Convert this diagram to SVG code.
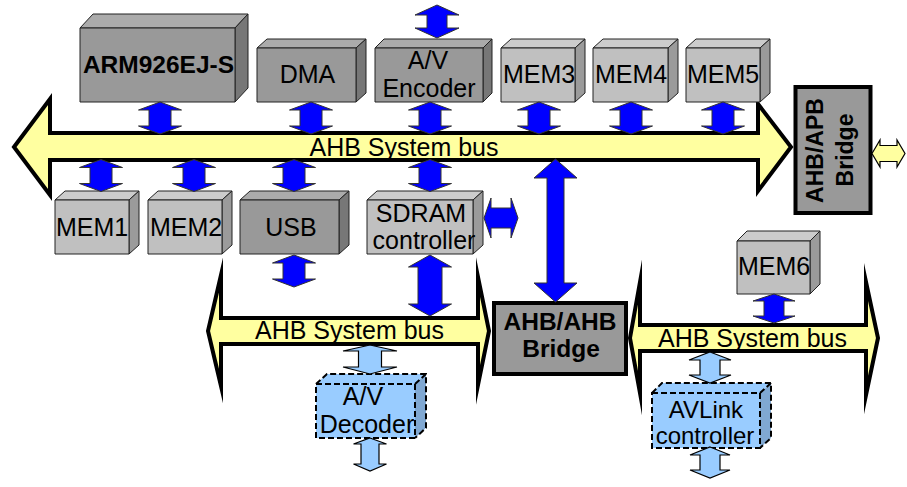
<svg xmlns="http://www.w3.org/2000/svg" width="907" height="487" viewBox="0 0 907 487">
  <style>
    .bus{fill:#ffffa0;stroke:#000;stroke-width:4;stroke-linejoin:miter;stroke-miterlimit:20}
    .t{font-family:"Liberation Sans",Arial,Helvetica,sans-serif;font-size:25px;fill:#000;text-anchor:middle}
    .b{font-weight:bold;font-size:24.5px}
    .face{stroke:#222;stroke-width:1;stroke-linejoin:round}
    .fd{fill:#999999}.td{fill:#ababab}.sd{fill:#777777}
    .fl{fill:#c0c0c0}.tl{fill:#cccccc}.sl{fill:#9b9b9b}
    .fb{fill:#99ccff}.sb{fill:#80a8d2}
    .dash{fill:none;stroke:#000;stroke-width:2;stroke-dasharray:6 3}
    .bridge{fill:#999999;stroke:#000;stroke-width:4}
    .arr{fill:#0000ff;stroke:#333;stroke-width:1}
    .arrl{fill:#99ccff;stroke:#000;stroke-width:1.2}
    .arry{fill:#ffffa0;stroke:#000;stroke-width:1.2}
  </style>
  <defs>
    <!-- short vertical double arrow, 32 px tall, centred on x=0 -->
    <path id="va" d="M0,0 L21.5,8 L11,8 L11,24 L21.5,24 L0,32 L-21.5,24 L-11,24 L-11,8 L-21.5,8 Z"/>
  </defs>

  <!-- buses -->
  <g id="bus-main">
    <polygon class="bus" points="14,147 50,99 50,133 758,133 758,104 791,147 758,191 758,160 50,160 50,195"/>
    <text class="t" x="404" y="156">AHB System bus</text>
  </g>
  <g id="bus-left">
    <polygon class="bus" points="208,331 221,275 221,318 478,318 478,277 489,331 478,385 478,344 221,344 221,386"/>
    <text class="t" x="349.5" y="339">AHB System bus</text>
  </g>
  <g id="bus-right">
    <polygon class="bus" points="630,338 640,282 640,325 866,325 866,282 878,338 866,395 866,351 640,351 640,393"/>
    <text class="t" x="752.5" y="347">AHB System bus</text>
  </g>

  <!-- top row -->
  <g id="arm">
    <polygon class="face td" points="80,28 93,14 248,14 235,28"/>
    <polygon class="face sd" points="235,28 248,14 248,88 235,102"/>
    <rect class="face fd" x="80" y="28" width="155" height="74"/>
    <text class="t b" x="158.5" y="73">ARM926EJ-S</text>
  </g>
  <g id="dma">
    <polygon class="face td" points="257,48 267,39 366,39 356,48"/>
    <polygon class="face sd" points="356,48 366,39 366,93 356,102"/>
    <rect class="face fd" x="257" y="48" width="99" height="54"/>
    <text class="t" x="307.5" y="83">DMA</text>
  </g>
  <g id="encoder">
    <polygon class="face td" points="375,48 384,39 492,39 483,48"/>
    <polygon class="face sd" points="483,48 492,39 492,93 483,102"/>
    <rect class="face fd" x="375" y="48" width="108" height="54"/>
    <text class="t" x="428" y="69">A/V</text>
    <text class="t" x="429" y="97">Encoder</text>
  </g>
  <g id="mem3">
    <polygon class="face tl" points="501,48 511,39 585,39 575,48"/>
    <polygon class="face sl" points="575,48 585,39 585,93 575,102"/>
    <rect class="face fl" x="501" y="48" width="74" height="54"/>
    <text class="t" x="539" y="83">MEM3</text>
  </g>
  <g id="mem4">
    <polygon class="face tl" points="593,48 603,39 678,39 668,48"/>
    <polygon class="face sl" points="668,48 678,39 678,93 668,102"/>
    <rect class="face fl" x="593" y="48" width="75" height="54"/>
    <text class="t" x="631" y="83">MEM4</text>
  </g>
  <g id="mem5">
    <polygon class="face tl" points="686,48 696,39 770,39 760,48"/>
    <polygon class="face sl" points="760,48 770,39 770,93 760,102"/>
    <rect class="face fl" x="686" y="48" width="74" height="54"/>
    <text class="t" x="723" y="83">MEM5</text>
  </g>

  <!-- second row -->
  <g id="mem1">
    <polygon class="face tl" points="55,200 65,191 139,191 129,200"/>
    <polygon class="face sl" points="129,200 139,191 139,245 129,254"/>
    <rect class="face fl" x="55" y="200" width="74" height="54"/>
    <text class="t" x="92" y="236">MEM1</text>
  </g>
  <g id="mem2">
    <polygon class="face tl" points="148,200 158,191 232,191 222,200"/>
    <polygon class="face sl" points="222,200 232,191 232,245 222,254"/>
    <rect class="face fl" x="148" y="200" width="74" height="54"/>
    <text class="t" x="186" y="236">MEM2</text>
  </g>
  <g id="usb">
    <polygon class="face td" points="240,200 250,191 349,191 339,200"/>
    <polygon class="face sd" points="339,200 349,191 349,245 339,254"/>
    <rect class="face fd" x="240" y="200" width="99" height="54"/>
    <text class="t" x="291" y="236">USB</text>
  </g>
  <g id="sdram">
    <polygon class="face tl" points="367,200 377,191 483,191 473,200"/>
    <polygon class="face sl" points="473,200 483,191 483,245 473,254"/>
    <rect class="face fl" x="367" y="200" width="106" height="54"/>
    <text class="t" x="421" y="222">SDRAM</text>
    <text class="t" x="424" y="249">controller</text>
  </g>
  <g id="mem6">
    <polygon class="face tl" points="737,241 747,231 820,231 810,241"/>
    <polygon class="face sl" points="810,241 820,231 820,284 810,294"/>
    <rect class="face fl" x="737" y="241" width="73" height="53"/>
    <text class="t" x="774" y="275">MEM6</text>
  </g>

  <!-- bridges -->
  <g id="apb-bridge">
    <rect class="bridge" x="795.5" y="87" width="75" height="126"/>
    <text class="t b" style="font-size:23px" transform="translate(823,150.5) rotate(-90)">AHB/APB</text>
    <text class="t b" style="font-size:23px" transform="translate(853,150) rotate(-90)">Bridge</text>
  </g>
  <g id="ahb-bridge">
    <rect class="bridge" x="494" y="303" width="132" height="71"/>
    <text class="t b" x="560" y="330">AHB/AHB</text>
    <text class="t b" x="561" y="357">Bridge</text>
  </g>

  <!-- optional blocks -->
  <g id="av-decoder">
    <polygon class="fb" points="316,384 327,374 426,374 415,384"/>
    <polygon class="sb" points="415,384 426,374 426,428 415,438"/>
    <rect class="fb" x="316" y="384" width="99" height="54"/>
    <rect class="dash" x="316" y="384" width="99" height="54"/>
    <polyline class="dash" points="316,384 327,374 426,374 426,428 415,438"/>
    <line class="dash" x1="415" y1="384" x2="426" y2="374"/>
    <text class="t" x="363" y="405">A/V</text>
    <text class="t" x="367" y="433">Decoder</text>
  </g>
  <g id="avlink">
    <polygon class="fb" points="652,393 662,383 771,383 760,393"/>
    <polygon class="sb" points="760,393 771,383 771,438 760,448"/>
    <rect class="fb" x="652" y="393" width="108" height="55"/>
    <rect class="dash" x="652" y="393" width="108" height="55"/>
    <polyline class="dash" points="652,393 662,383 771,383 771,438 760,448"/>
    <line class="dash" x1="760" y1="393" x2="771" y2="383"/>
    <text class="t" style="font-size:24px" x="706" y="418">AVLink</text>
    <text class="t" style="font-size:24px" x="705" y="444">controller</text>
  </g>

  <!-- connectors -->
  <g id="connectors">
    <polygon class="arr" points="437,5 459,15 447,15 447,28 459,28 437,38 415,28 427,28 427,15 415,15"/>
    <use href="#va" class="arr" transform="translate(160,102)"/>
    <use href="#va" class="arr" transform="translate(311,102)"/>
    <use href="#va" class="arr" transform="translate(430,102)"/>
    <use href="#va" class="arr" transform="translate(539,102)"/>
    <use href="#va" class="arr" transform="translate(631,102)"/>
    <use href="#va" class="arr" transform="translate(723,102)"/>
    <use href="#va" class="arr" transform="translate(101,159.5)"/>
    <use href="#va" class="arr" transform="translate(194,159.5)"/>
    <use href="#va" class="arr" transform="translate(294,159.5)"/>
    <use href="#va" class="arr" transform="translate(430,159.5)"/>
    <use href="#va" class="arr" transform="translate(294,255)"/>
    <polygon class="arr" points="430,255 451.5,267 442,267 442,304 451.5,304 430,316 408.5,304 418,304 418,267 408.5,267"/>
    <polygon class="arr" points="484,218 491,198 491,208 511,208 511,198 518,218 511,238 511,228 491,228 491,238"/>
    <polygon class="arr" points="555.5,159 577,178 564,178 564,283 577,283 555.5,302 534,283 547,283 547,178 534,178"/>
    <polygon class="arr" points="774,294 795,301 784,301 784,316 795,316 774,323 753,316 764,316 764,301 753,301"/>
    <polygon class="arrl" points="370,345 397,351 381.5,351 381.5,367 397,367 370,374 343,367 358.5,367 358.5,351 343,351"/>
    <polygon class="arrl" points="370,438 386.5,444 379,444 379,464 386.5,464 370,471 353.5,464 361,464 361,444 353.5,444"/>
    <polygon class="arrl" points="710,352 731,360 720,360 720,375 731,375 710,383 689,375 700,375 700,360 689,360"/>
    <polygon class="arrl" points="710,447 730,455 720,455 720,470 730,470 710,478 690,470 700,470 700,455 690,455"/>
    <polygon class="arry" points="872,153.5 880,140 880,145.5 897,145.5 897,140 905,153.5 897,167 897,161.5 880,161.5 880,167"/>
  </g>
</svg>
